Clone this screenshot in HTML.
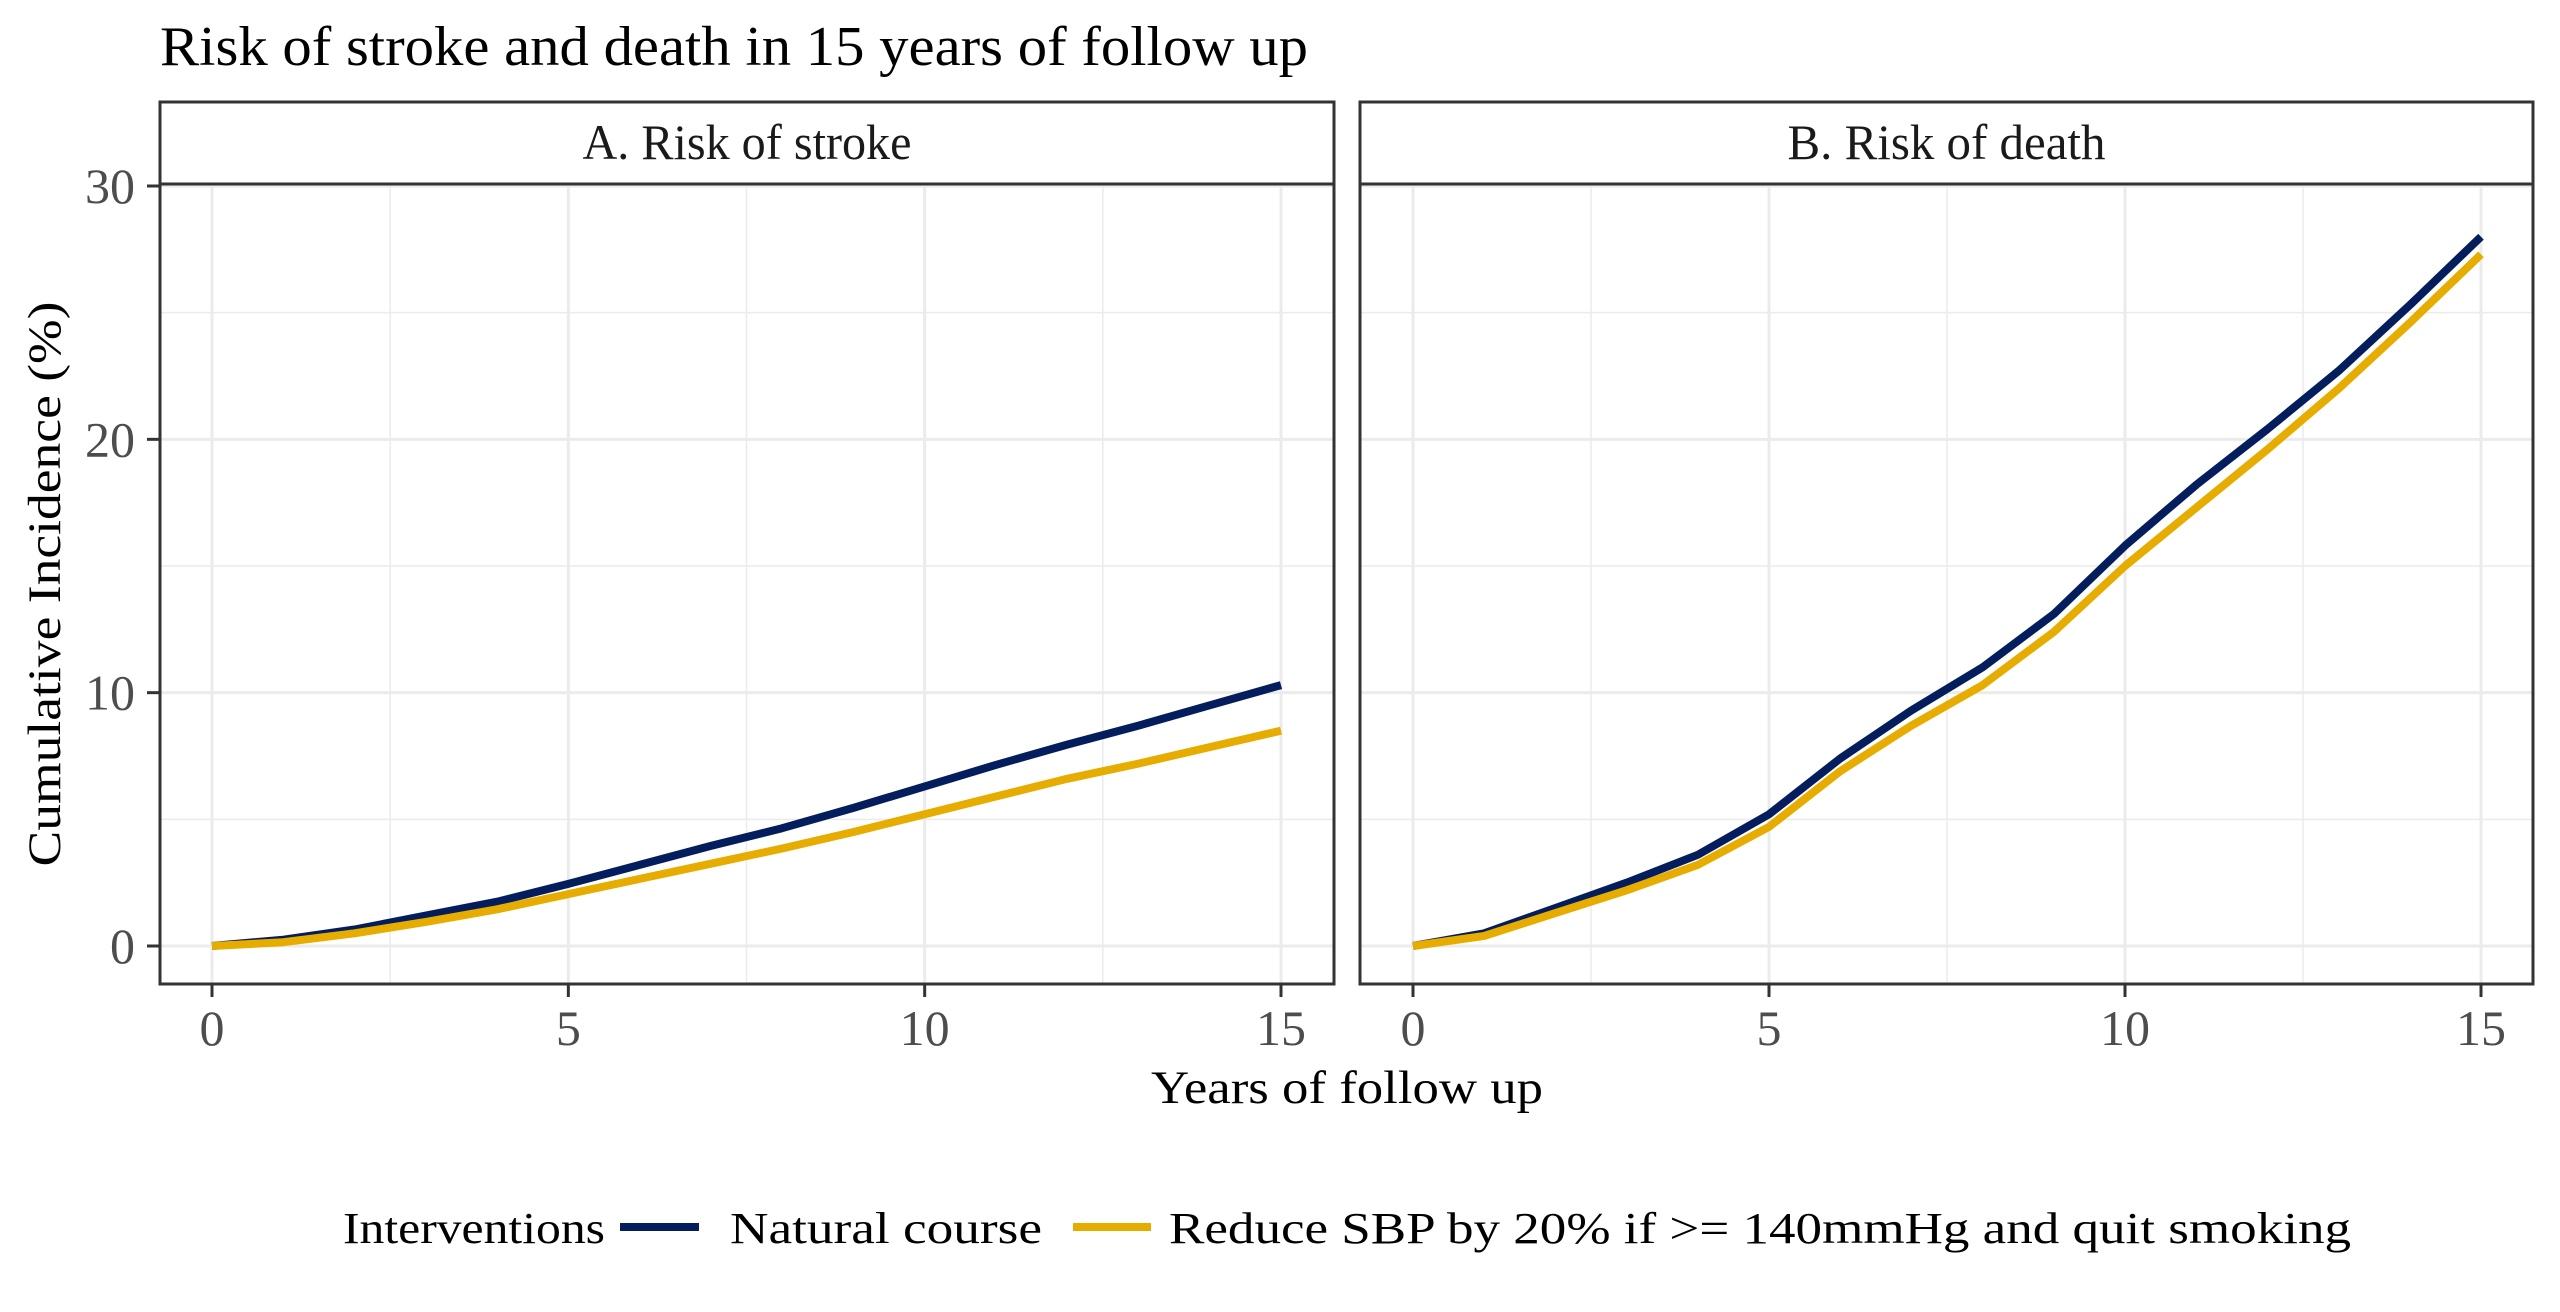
<!DOCTYPE html>
<html><head><meta charset="utf-8"><style>
html,body{margin:0;padding:0;background:#fff;}
svg{display:block;font-family:"Liberation Serif",serif;}
</style></head><body>
<svg id="chart" width="2560" height="1312" viewBox="0 0 2560 1312" xmlns="http://www.w3.org/2000/svg">
<text x="160" y="65" font-size="56" fill="#000" textLength="1148" lengthAdjust="spacingAndGlyphs">Risk of stroke and death in 15 years of follow up</text>
<g id="panels"></g>
<text transform="translate(60,584) rotate(-90)" text-anchor="middle" font-size="47" fill="#000" textLength="565" lengthAdjust="spacingAndGlyphs">Cumulative Incidence (%)</text>
<text x="1347" y="1103" text-anchor="middle" font-size="47" fill="#000" textLength="392" lengthAdjust="spacingAndGlyphs">Years of follow up</text>
<g>
<text x="343" y="1243" font-size="44" fill="#000" textLength="262" lengthAdjust="spacingAndGlyphs">Interventions</text>
<line x1="620" y1="1227" x2="699" y2="1227" stroke="#041d5c" stroke-width="8"/>
<text x="730" y="1243" font-size="44" fill="#000" textLength="312" lengthAdjust="spacingAndGlyphs">Natural course</text>
<line x1="1073" y1="1227" x2="1151" y2="1227" stroke="#e6ac00" stroke-width="8"/>
<text x="1169" y="1243" font-size="44" fill="#000" textLength="1182" lengthAdjust="spacingAndGlyphs">Reduce SBP by 20% if &gt;= 140mmHg and quit smoking</text>
</g>
</svg>
<script>
const years = [0,1,2,3,4,5,6,7,8,9,10,11,12,13,14,15];
const strokeNatural = [0,0.25,0.65,1.2,1.75,2.45,3.2,3.95,4.65,5.45,6.3,7.15,7.95,8.7,9.5,10.3];
const strokeReduce = [0,0.15,0.5,0.95,1.45,2.05,2.65,3.25,3.85,4.5,5.2,5.9,6.6,7.2,7.85,8.5];
const deathNatural = [0,0.5,1.5,2.5,3.6,5.2,7.4,9.3,11,13.1,15.8,18.2,20.4,22.7,25.3,28];
const deathReduce = [0,0.4,1.3,2.2,3.2,4.7,6.9,8.7,10.3,12.4,15,17.3,19.6,22,24.6,27.3];
const xTicks = [0,5,10,15];
const yTicks = [0,10,20,30];
const panelTitles = ["A. Risk of stroke","B. Risk of death"];

const NS = "http://www.w3.org/2000/svg";
const root = document.getElementById('panels');
function mk(tag, attrs, parent){ const e=document.createElementNS(NS,tag); for(const k in attrs) e.setAttribute(k,attrs[k]); (parent||root).appendChild(e); return e; }

const panels = [
  {x0:160,x1:1334,px0:212,px15:1281,series:[strokeNatural,strokeReduce],name:'stroke',tl:329},
  {x0:1360,x1:2533,px0:1413,px15:2481,series:[deathNatural,deathReduce],name:'death',tl:318}
];
const stripTop=102, plotTop=184, plotBot=984;
function yS(v){ return 946 + (186-946)*v/30; }
const colors=['#041d5c','#e6ac00'];
const seriesNames=['natural-course','reduce-sbp'];

panels.forEach((p,i)=>{
  const xS = v => p.px0 + (p.px15-p.px0)*v/15;
  const g = mk('g',{});
  
  
  [2.5,7.5,12.5].forEach(v=>{ const l=mk('line',{x1:xS(v),x2:xS(v),y1:plotTop,y2:plotBot,stroke:'#ebebeb','stroke-width':1.5},g);
      });
  [5,15,25].forEach(v=>{ const l=mk('line',{x1:p.x0,x2:p.x1,y1:yS(v),y2:yS(v),stroke:'#ebebeb','stroke-width':1.5},g);
      });
  xTicks.forEach(v=>{ const l=mk('line',{x1:xS(v),x2:xS(v),y1:plotTop,y2:plotBot,stroke:'#ebebeb','stroke-width':3},g);
      });
  yTicks.forEach(v=>{ const l=mk('line',{x1:p.x0,x2:p.x1,y1:yS(v),y2:yS(v),stroke:'#ebebeb','stroke-width':3},g);
      });
  p.series.forEach((s,k)=>{
    const d = s.map((v,j)=>(j?'L':'M')+xS(years[j]).toFixed(1)+','+yS(v).toFixed(1)).join(' ');
    const path = mk('path',{d:d,fill:'none',stroke:colors[k],'stroke-width':8,'stroke-linejoin':'round'},g);
    
    
  });
  const b = mk('rect',{x:p.x0,y:stripTop,width:p.x1-p.x0,height:plotBot-stripTop,fill:'none',stroke:'#333','stroke-width':3},g);
   
  const sl = mk('line',{x1:p.x0,x2:p.x1,y1:plotTop,y2:plotTop,stroke:'#333','stroke-width':3},g);
   
  const st = mk('text',{x:(p.x0+p.x1)/2,y:159,'text-anchor':'middle','font-size':50,fill:'#1a1a1a',textLength:p.tl,lengthAdjust:'spacingAndGlyphs'},g);
  st.textContent = panelTitles[i];
  
  
  xTicks.forEach(v=>{
    const t=mk('line',{x1:xS(v),x2:xS(v),y1:plotBot,y2:plotBot+13,stroke:'#333','stroke-width':3},g);
     
    const tl=mk('text',{x:xS(v),y:1045,'text-anchor':'middle','font-size':50,fill:'#4d4d4d'},g);
    tl.textContent=v;
     
  });
  if(i===0){
    yTicks.forEach(v=>{
      const t=mk('line',{x1:p.x0-13,x2:p.x0,y1:yS(v),y2:yS(v),stroke:'#333','stroke-width':3},g);
       
      const tl=mk('text',{x:135,y:yS(v)+17,'text-anchor':'end','font-size':50,fill:'#4d4d4d'},g);
      tl.textContent=v;
       
    });
  }
});
</script>
</body></html>
